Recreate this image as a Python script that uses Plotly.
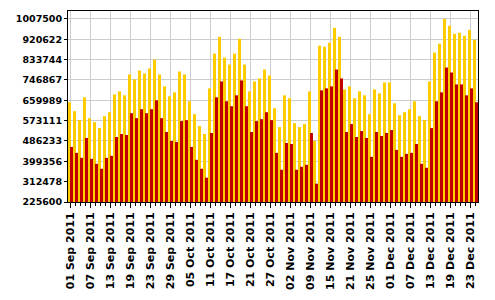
import plotly.graph_objects as go

# Category tick labels (every 4th bar carries a date label)
tick_labels = ["01 Sep 2011", "07 Sep 2011", "13 Sep 2011", "19 Sep 2011", "23 Sep 2011",
               "29 Sep 2011", "05 Oct 2011", "11 Oct 2011", "17 Oct 2011", "21 Oct 2011",
               "27 Oct 2011", "02 Nov 2011", "09 Nov 2011", "15 Nov 2011", "21 Nov 2011",
               "25 Nov 2011", "01 Dec 2011", "07 Dec 2011", "13 Dec 2011", "19 Dec 2011",
               "23 Dec 2011"]

series_yellow = [651500, 613400, 575200, 672700, 583700, 566800, 541300, 592200, 609100, 685400,
                 698100, 681200, 770200, 749000, 787100, 774400, 795600, 833700, 770200, 719300,
                 677000, 693900, 782900, 770200, 655800, 600700, 549800, 515900, 710900, 859200,
                 931200, 842200, 812600, 859200, 922700, 812600, 698100, 740500, 753200, 791400,
                 765900, 626100, 545600, 681200, 668500, 562500, 545600, 558300, 698100, 486300,
                 893100, 888800, 905800, 969400, 931200, 706600, 719300, 668500, 698100, 681200,
                 600700, 706600, 689700, 736300, 736300, 647300, 596400, 609100, 621900, 655800,
                 592200, 575200, 740500, 863400, 901600, 1007500, 977800, 943900, 948200, 935500,
                 960900, 918500]

series_red = [460800, 435400, 414200, 499000, 410000, 388800, 367600, 414200, 422700, 503200,
              515900, 511700, 604900, 583700, 621900, 604900, 621900, 660000, 583700, 524400,
              486300, 482000, 571000, 575200, 460800, 405700, 367600, 329500, 520200, 672700,
              740500, 655800, 634600, 681200, 744800, 634600, 524400, 571000, 579500, 609100,
              575200, 435400, 363400, 477800, 473500, 363400, 376100, 384500, 520200, 304000,
              702400, 710900, 719300, 791400, 753200, 524400, 558300, 503200, 528600, 499000,
              418400, 524400, 507400, 520200, 532900, 448100, 418400, 431200, 435400, 473500,
              388800, 371800, 541300, 655800, 693900, 799800, 778700, 727800, 727800, 681200,
              710900, 651500]

y_ticks = [225600, 312478, 399356, 486233, 573111, 659989, 746867, 833744, 920622, 1007500]

n = len(series_yellow)
x_idx = list(range(n))
label_pos = x_idx[::4][:len(tick_labels)]

fig = go.Figure()
fig.add_trace(go.Bar(x=x_idx, y=series_yellow, marker=dict(color="#FFCC00", line=dict(width=0)),
                     offset=-0.5, width=0.6, showlegend=False))
fig.add_trace(go.Bar(x=x_idx, y=series_red, marker=dict(color="#C00000", line=dict(width=0)),
                     offset=-0.1, width=0.6, showlegend=False))

fig.update_layout(
    width=495, height=300,
    margin=dict(l=68, r=17, t=10, b=97, pad=0),
    paper_bgcolor="white", plot_bgcolor="white",
    barmode="overlay",
    showlegend=False,
)
fig.update_xaxes(
    range=[-0.5, n - 0.5],
    tickmode="array", tickvals=label_pos, ticktext=tick_labels,
    tickangle=-90,
    tickfont=dict(family="DejaVu Sans", size=11, color="black", weight="bold"),
    ticks="outside", ticklen=5, tickcolor="black", tickwidth=1,
    minor=dict(tickmode="linear", tick0=0, dtick=1, ticks="outside", ticklen=3,
               tickcolor="black", tickwidth=1, showgrid=False),
    showgrid=True, gridcolor="#CCCCCC", gridwidth=1,
    showline=True, linecolor="black", linewidth=1, mirror=True,
    zeroline=False,
)
fig.update_yaxes(
    range=[225600, 1041300],
    tickmode="array", tickvals=y_ticks, ticktext=[str(v) for v in y_ticks],
    tickfont=dict(family="DejaVu Sans", size=9.5, color="black", weight="bold"),
    ticks="outside", ticklen=3, tickcolor="black", tickwidth=1,
    showgrid=True, gridcolor="#CCCCCC", gridwidth=1,
    showline=True, linecolor="black", linewidth=1, mirror=True,
    zeroline=False,
)

fig.write_html("out.html")
